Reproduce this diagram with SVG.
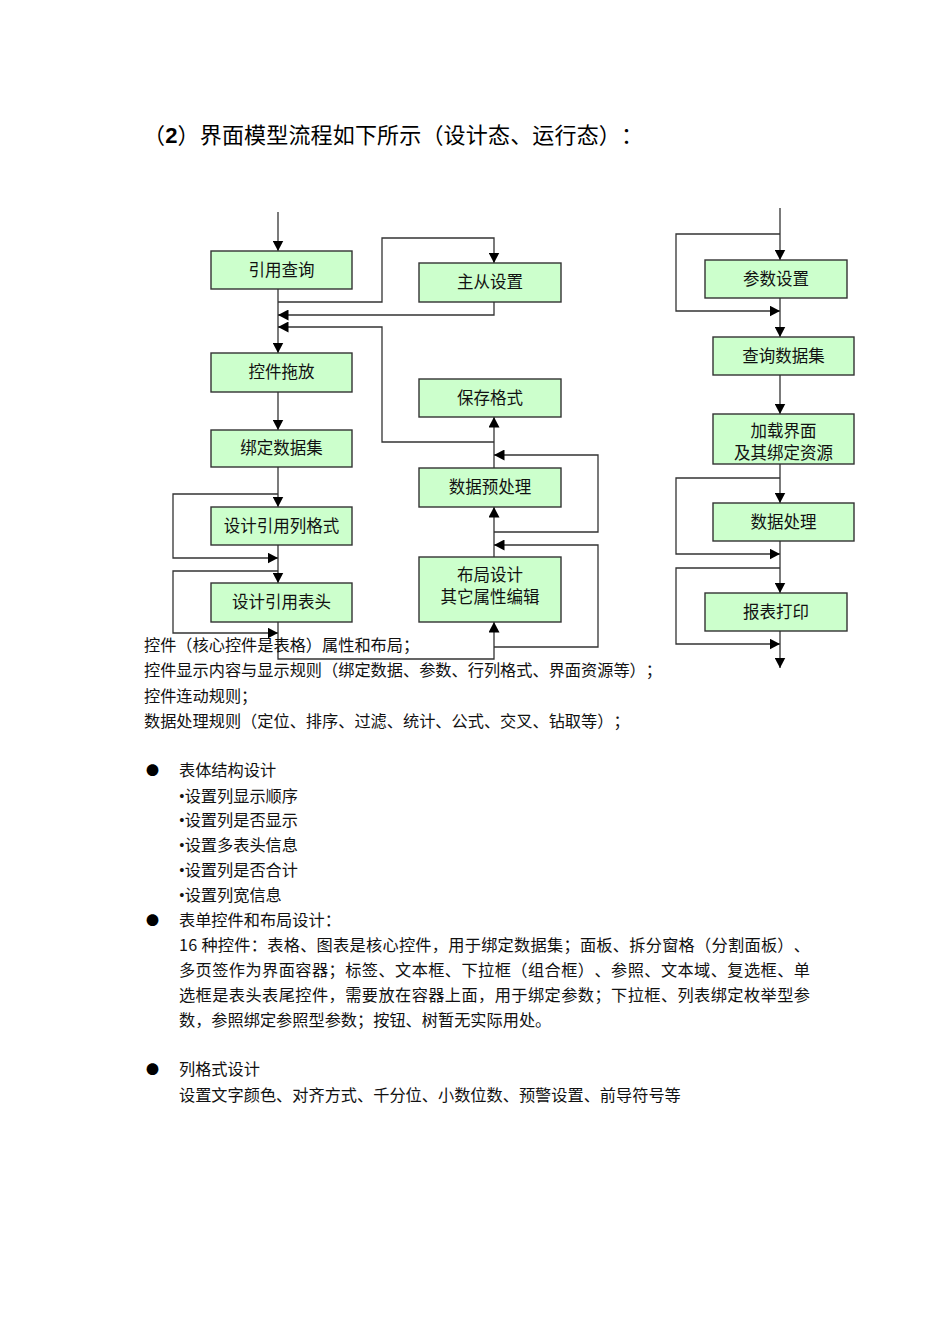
<svg xmlns="http://www.w3.org/2000/svg" width="950" height="1344" viewBox="0 0 950 1344">
<style>
text{text-spacing-trim:space-all}
.box{fill:#ccffcc;stroke:#333;stroke-width:1.4}
.bt{font-family:"Noto Sans CJK SC","Liberation Sans",sans-serif;font-size:16.5px;fill:#111;text-anchor:middle}
.ln{fill:none;stroke:#333;stroke-width:1.3}
.tx{font-family:"Noto Sans CJK SC","Liberation Serif",serif;font-size:16.2px;fill:#111}
.dot{font-family:"Liberation Serif",serif}
.bu{font-family:"Noto Sans CJK SC",sans-serif;font-size:13px;fill:#000}
.ti{font-family:"Noto Sans CJK SC","Liberation Sans",sans-serif;font-size:22px;fill:#000}
</style>
<defs>
<marker id="ar" markerUnits="userSpaceOnUse" markerWidth="11" markerHeight="11" refX="10.5" refY="5.5" orient="auto" viewBox="0 0 11 11">
<path d="M0,0 L10.5,5.5 L0,11 z" fill="#000"/>
</marker>
</defs>
<rect width="950" height="1344" fill="#fff"/>
<text class="ti" x="143" y="143" textLength="500" lengthAdjust="spacing">（<tspan font-family="Liberation Sans" font-weight="bold">2</tspan>）界面模型流程如下所示（设计态、运行态）：</text>

<g id="connectors">
<path class="ln" d="M278,212 V251" marker-end="url(#ar)"/>
<path class="ln" d="M278,289 V353" marker-end="url(#ar)"/>
<path class="ln" d="M278,302 H382 V238 H494 V263" marker-end="url(#ar)"/>
<path class="ln" d="M494,302 V315 H278" marker-end="url(#ar)"/>
<path class="ln" d="M494,468 V417" marker-end="url(#ar)"/>
<path class="ln" d="M494,442 H382 V327 H278" marker-end="url(#ar)"/>
<path class="ln" d="M278,392 V430" marker-end="url(#ar)"/>
<path class="ln" d="M278,467 V507" marker-end="url(#ar)"/>
<path class="ln" d="M278,494 H173 V558 H278" marker-end="url(#ar)"/>
<path class="ln" d="M278,545 V583" marker-end="url(#ar)"/>
<path class="ln" d="M278,571 H173 V633 H278" marker-end="url(#ar)"/>
<path class="ln" d="M278,622 V659 H494 V622" marker-end="url(#ar)"/>
<path class="ln" d="M494,557 V507" marker-end="url(#ar)"/>
<path class="ln" d="M494,532 H598 V455 H494" marker-end="url(#ar)"/>
<path class="ln" d="M494,647 H598 V545 H494" marker-end="url(#ar)"/>

<path class="ln" d="M780,208 V260" marker-end="url(#ar)"/>
<path class="ln" d="M780,234 H676 V311 H780" marker-end="url(#ar)"/>
<path class="ln" d="M780,298 V337" marker-end="url(#ar)"/>
<path class="ln" d="M780,375 V414" marker-end="url(#ar)"/>
<path class="ln" d="M780,464 V503" marker-end="url(#ar)"/>
<path class="ln" d="M780,478 H676 V554 H780" marker-end="url(#ar)"/>
<path class="ln" d="M780,541 V593" marker-end="url(#ar)"/>
<path class="ln" d="M780,568 H676 V644 H780" marker-end="url(#ar)"/>
<path class="ln" d="M780,631 V668" marker-end="url(#ar)"/>
</g>

<g id="n-yinyongchaxun"><rect class="box" x="211" y="251" width="141" height="38"/><text class="bt" x="281.5" y="276">引用查询</text></g>
<g id="n-zhucong"><rect class="box" x="419" y="263" width="142" height="39"/><text class="bt" x="490" y="288">主从设置</text></g>
<g id="n-kongjian"><rect class="box" x="211" y="353" width="141" height="39"/><text class="bt" x="281.5" y="378">控件拖放</text></g>
<g id="n-baocun"><rect class="box" x="419" y="379" width="142" height="38"/><text class="bt" x="490" y="404">保存格式</text></g>
<g id="n-bangding"><rect class="box" x="211" y="430" width="141" height="37"/><text class="bt" x="281.5" y="454">绑定数据集</text></g>
<g id="n-yuchuli"><rect class="box" x="419" y="468" width="142" height="39"/><text class="bt" x="490" y="493">数据预处理</text></g>
<g id="n-liegeshi"><rect class="box" x="211" y="507" width="141" height="38"/><text class="bt" x="281.5" y="532">设计引用列格式</text></g>
<g id="n-biaotou"><rect class="box" x="211" y="583" width="141" height="39"/><text class="bt" x="281.5" y="608">设计引用表头</text></g>
<g id="n-buju"><rect class="box" x="419" y="557" width="142" height="65"/><text class="bt" x="490" y="580.5">布局设计</text><text class="bt" x="490" y="603">其它属性编辑</text></g>

<g id="n-canshu"><rect class="box" x="705" y="260" width="142" height="38"/><text class="bt" x="776" y="285">参数设置</text></g>
<g id="n-chaxun"><rect class="box" x="713" y="337" width="141" height="38"/><text class="bt" x="783.5" y="362">查询数据集</text></g>
<g id="n-jiazai"><rect class="box" x="713" y="414" width="141" height="50"/><text class="bt" x="783.5" y="436.5">加载界面</text><text class="bt" x="783.5" y="458.5">及其绑定资源</text></g>
<g id="n-chuli"><rect class="box" x="713" y="503" width="141" height="38"/><text class="bt" x="783.5" y="528">数据处理</text></g>
<g id="n-dayin"><rect class="box" x="705" y="593" width="142" height="38"/><text class="bt" x="776" y="618">报表打印</text></g>

<g id="body-text">
<text class="tx" x="144" y="651">控件（核心控件是表格）属性和布局；</text>
<text class="tx" x="144" y="676">控件显示内容与显示规则（绑定数据、参数、行列格式、界面资源等）；</text>
<text class="tx" x="144" y="702">控件连动规则；</text>
<text class="tx" x="144" y="727">数据处理规则（定位、排序、过滤、统计、公式、交叉、钻取等）；</text>

<text class="bu" x="146" y="775">●</text>
<text class="tx" x="179" y="776">表体结构设计</text>
<text class="tx" x="179" y="802"><tspan class="dot">•</tspan>设置列显示顺序</text>
<text class="tx" x="179" y="826"><tspan class="dot">•</tspan>设置列是否显示</text>
<text class="tx" x="179" y="851"><tspan class="dot">•</tspan>设置多表头信息</text>
<text class="tx" x="179" y="876"><tspan class="dot">•</tspan>设置列是否合计</text>
<text class="tx" x="179" y="901"><tspan class="dot">•</tspan>设置列宽信息</text>
<text class="bu" x="146" y="925">●</text>
<text class="tx" x="179" y="926">表单控件和布局设计：</text>
<text class="tx" x="179" y="951" textLength="631" lengthAdjust="spacing">16 种控件：表格、图表是核心控件，用于绑定数据集；面板、拆分窗格（分割面板）、</text>
<text class="tx" x="179" y="976" textLength="631" lengthAdjust="spacing">多页签作为界面容器；标签、文本框、下拉框（组合框）、参照、文本域、复选框、单</text>
<text class="tx" x="179" y="1001" textLength="631" lengthAdjust="spacing">选框是表头表尾控件，需要放在容器上面，用于绑定参数；下拉框、列表绑定枚举型参</text>
<text class="tx" x="179" y="1026">数，参照绑定参照型参数；按钮、树暂无实际用处。</text>
<text class="bu" x="146" y="1074">●</text>
<text class="tx" x="179" y="1075">列格式设计</text>
<text class="tx" x="179" y="1101">设置文字颜色、对齐方式、千分位、小数位数、预警设置、前导符号等</text>
</g>
</svg>
